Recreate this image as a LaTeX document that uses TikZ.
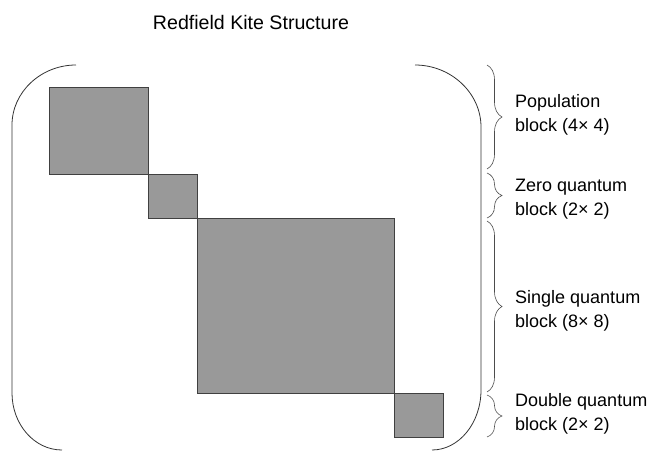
\documentclass[tikz,border=0pt]{standalone}
\usepackage{fontspec}
\setmainfont{Liberation Sans}
\usetikzlibrary{decorations.pathreplacing}
\begin{document}
\begin{tikzpicture}[x=1bp,y=-1bp,
  blk/.style={draw=black!75,fill=black!40,line width=0.9bp},
  paren/.style={draw=black!80,line width=0.8bp},
  brc/.style={draw=black!70,line width=0.6bp,decorate,decoration={brace,amplitude=15bp}},
  lbl/.style={anchor=west,align=left,inner sep=0pt,font=\fontsize{18bp}{24bp}\selectfont},
  ttl/.style={inner sep=0pt,font=\fontsize{19.6bp}{22bp}\selectfont}]
\useasboundingbox (0,0) rectangle (650,452);
\node[ttl] (title) at (251,22) {Redfield Kite Structure};
% blocks
\draw[blk] (49,87) rectangle (148,174);
\draw[blk] (148,174) rectangle (197,218);
\draw[blk] (197,218) rectangle (394,393);
\draw[blk] (394,393) rectangle (443,437);
% parentheses
\draw[paren] (76,65) .. controls (41,65) and (12,92) .. (12,125) -- (12,393) .. controls (12,424) and (34,450) .. (62,450);
\draw[paren] (415,65) .. controls (451,65) and (481,93) .. (481,127) -- (481,390) .. controls (481,423) and (459,450) .. (432,450);
% braces
\coordinate (p1) at (487,65); \coordinate (p2) at (487,169);
\coordinate (z1) at (487,173); \coordinate (z2) at (487,218);
\coordinate (s1) at (487,221); \coordinate (s2) at (487,392);
\coordinate (d1) at (487,395); \coordinate (d2) at (487,437);
\draw[brc] (p1) -- (p2);
\draw[brc] (z1) -- (z2);
\draw[brc] (s1) -- (s2);
\draw[brc] (d1) -- (d2);
% labels
\node[lbl] (lp) at (515,115) {Population\\block (4× 4)};
\node[lbl] (lz) at (515,199) {Zero quantum\\block (2× 2)};
\node[lbl] (ls) at (515,311) {Single quantum\\block (8× 8)};
\node[lbl] (ld) at (515,414) {Double quantum\\block (2× 2)};
\end{tikzpicture}
\end{document}
